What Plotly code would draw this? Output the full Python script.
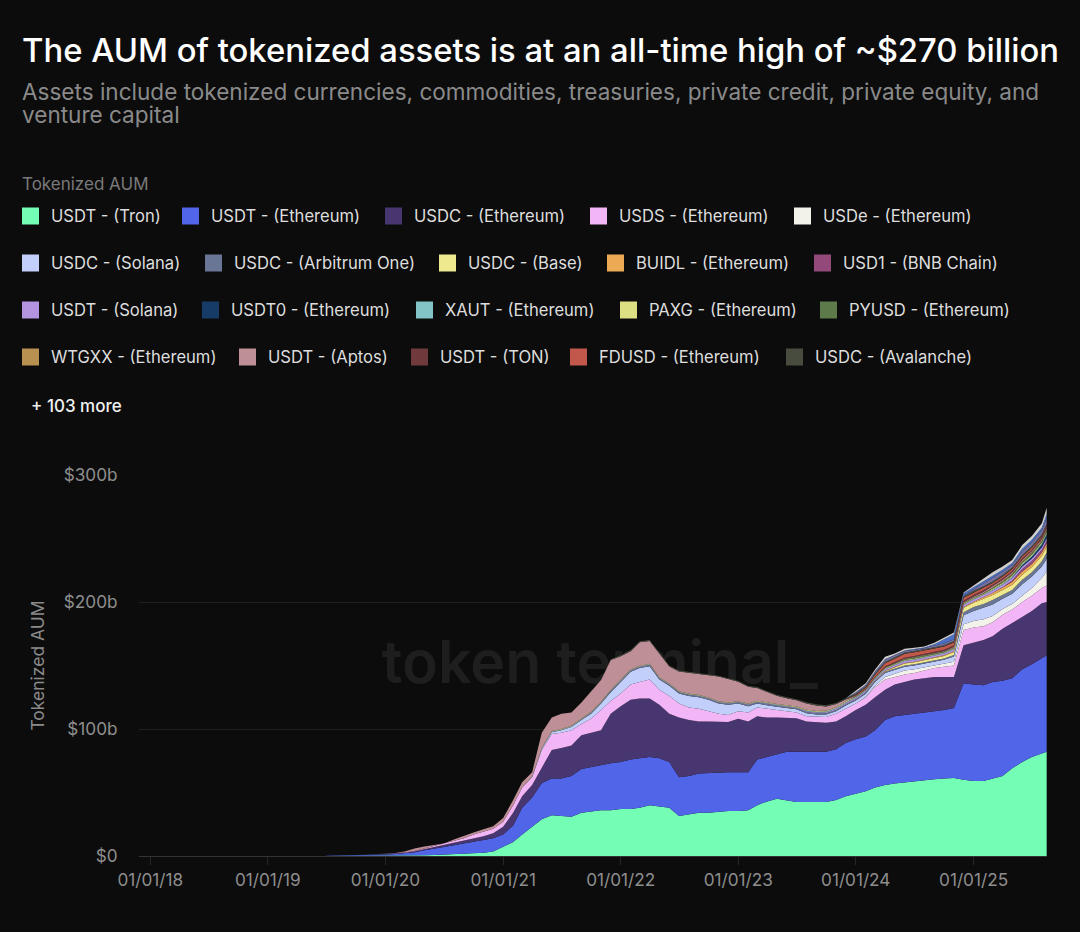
#!/usr/bin/env python3
import pandas as pd
import plotly.graph_objects as go

BG = '#0c0c0c'
FONT = 'Inter'
WIDTH = 1080
HEIGHT = 932
MARGIN = dict(l=139, r=33, t=475, b=76, pad=0)

# month starts from 2019-07 to 2025-08, then the last reading
DATES = [d.strftime('%Y-%m-%d') for d in pd.date_range('2019-07-01', '2025-08-01', freq='MS')] + ['2025-08-16']

USDT_TRON = [
	0, 0, 0, 0, 0, 0,
	0, 0, 0, .2, .5, .7, 1, 1.3, 1.6, 2, 2.5, 3.5,
	7, 11, 17, 23, 29, 32, 31.5, 31, 34, 35, 36, 36,
	37, 37, 38, 40, 39, 38, 31.5, 33, 34, 34, 35, 35.5,
	35.5, 36, 40, 43, 45, 44, 42.5, 42.5, 42.5, 42.5, 44, 47,
	49, 51, 54, 56, 57, 58, 59, 60, 60.5, 61, 61.4, 60,
	59, 59, 61, 63, 69, 74, 78, 81, 82,
]
USDT_ETH = [
	.1, .2, .3, .5, .7, 1,
	1.2, 1.5, 2, 2.8, 4, 4.8, 6, 7.2, 8.4, 9.5, 10, 10.5,
	10, 13, 21, 23, 28.5, 29, 29.5, 32, 34.5, 35, 36, 37,
	37, 39, 39, 38, 38, 36, 30.5, 30, 31, 31.5, 31, 30.5,
	30.5, 30, 36, 35, 35, 38, 39.5, 39.5, 39.5, 39.5, 40, 42,
	43, 43, 45, 51, 53, 53, 52.5, 52.5, 53.5, 54, 55.1, 76,
	76, 75.5, 76, 75, 71, 73, 73, 75, 76,
]
USDC_ETH = [
	0, 0, .05, .1, .2, .3,
	.5, .5, .6, .8, 1, 1.3, 1.5, 2, 2.5, 2.5, 3, 4,
	6, 10, 9, 10, 11.5, 22.5, 24, 24, 26.5, 27, 27, 39,
	44, 47, 47, 46, 42, 38, 47, 44, 41, 40.5, 40, 39.5,
	42, 40, 34, 31, 29, 27, 26.5, 24, 23.5, 23, 22, 21,
	23, 25, 26, 24, 25, 26, 27.5, 27.5, 27, 26, 24.5, 30,
	33, 35.5, 36, 41, 43.5, 41, 42, 43, 42,
]
USDS_ETH = [
	0, 0, 0, 0, 0, 0,
	0, 0, .1, .2, .5, .7, 1, 1.5, 1.5, 3, 3.5, 3.5,
	4, 6, 7, 6, 14.5, 12.5, 12, 12, 9, 11, 16, 10,
	10, 12, 13, 15, 12, 14, 11, 10, 10, 8, 6, 5.5,
	6, 7, 7, 7, 6, 5, 4.5, 4, 4, 4.5, 6, 6,
	5, 6, 8, 8, 6, 6, 5, 6, 7, 8, 9, 12,
	12, 11, 11, 11, 10.5, 12, 12, 12, 13,
]
USDT_APTOS = [
	0, 0, 0, 0, 0, .1,
	.2, .3, .8, 2, 1.5, 1, .3, 1, 2, 1.5, 2, 2,
	3, 4, 4, 3.4, 12, 10.5, 12, 10.5, 12.5, 16, 17, 23.5,
	18.5, 14.5, 18.5, 18, 19, 13.5, 15.5, 16.5, 16.5, 17.5, 19.5, 18.5,
	15.5, 13.5, 10, 8.5, 6.5, 5.5, 5, 5, 4.5, 3.5, 2.5, 1.5,
	.5, .3, .3, .3, .3, .3, .3, .4, .4, .4, .5, .6,
	.8, 1, 1, 1, 1, 1, 1, 1, 1,
]

# the shorter series start late, the values run up to the last date
USDE_ETH = [.3, 1, 2, 2.5, 3, 3, 2.5, 2.5, 2.5, 3, 4.5, 5, 5.5, 5, 4.5, 4.5, 5, 6, 8, 11]
USDC_SOL = [
	.3, 1, 1.5, 2, 2.5, 3, 4, 5, 7,
	9, 10, 11, 10.5, 8, 8, 8, 9, 9, 9, 8, 8,
	6, 5, 3, 2.5, 2.5, 2.5, 2.5, 2.5, 2, 2, 2, 2.5,
	2.5, 2.5, 3, 3, 3, 3, 3, 3, 3, 3, 4, 7,
	8, 9, 9, 8, 8, 9, 9, 9, 10,
]
USDC_ARB = [
	.3, .5, .5, .7,
	.7, .7, .7, .7, .7, .7, .7, .7, .7, .7, .7, .7,
	.7, .7, .8, .8, .8, .8, .8, .9, .9, .9, 1, 1,
	1, 1, 1, 1, 1, 1, 1, 1, 1, 1, 1.2, 2.5,
	3, 3, 3.5, 3, 3, 3.5, 3.5, 4, 5,
]
USDC_BASE = [.3, .5, 1, 1.5, 1.5, 1.5, 1.5, 2, 2.5, 3.5, 3.5, 4, 4, 4, 4, 4, 4, 4.5, 4.5]
BUIDL_ETH = [.1, .3, .3, .5, .5, .5, .5, .5, .5, .5, .6, 1, 1.5, 2, 2.5, 2.5, 2.5, 2.5, 2.5]
USD1_BNB = [.1, 1, 2, 2.2, 2.2, 2.2]
USDT_SOL = [
	.2, .2, .2, .2, .2, .2, .2,
	.3, .3, .3, .3, .3, .3, .3, .3, .3, .3, .3, .3,
	.3, .3, .4, .4, .4, .4, .4, .6, .6, .8, 1, 1,
	1, 1, 1, 1.2, 1.2, 1.5, 1.5, 1.5, 1.5, 1.5, 1.5, 1.8,
	1.8, 1.8, 2, 2, 2, 2, 2, 2, 2,
]
USDT0_ETH = [.2, 1, 1.5, 2, 3]
XAUT_ETH = [
	.1, .2, .4, .4, .4, .4, .4, .4, .4,
	.4, .4, .4, .4, .4, .4, .4, .4, .4, .4, .4, .4,
	.4, .4, .5, .5, .5, .5, .5, .6, .6, .6, .6, .6,
	.5, .5, .5, .5, .5, .5, .5, .5, .5, .5, .5, .5,
	.6, .6, .8, .8, .8, .8, .8, .9, 1,
]
PAXG_ETH = [
	.2, .3, .4, .4, .4, .4, .4, .4, .5,
	.4, .4, .4, .4, .4, .4, .4, .4, .4, .4, .4, .4,
	.4, .4, .5, .5, .5, .5, .5, .5, .5, .5, .5, .7,
	.4, .4, .4, .5, .5, .5, .5, .5, .5, .5, .5, .5,
	.6, .6, .8, .8, .8, .8, .9, 1, 1,
]
PYUSD_ETH = [.3, .3, .3, .4, .5, .7, 1, 1, .7, .6, .5, .5, .5, .5, .6, .8, 1, 1, 1, 1, 1.2]
WTGXX_ETH = [.3, .5, .6, .7, .8, .8, .8]
USDT_TON = [.1, .3, .5, .6, .7, .7, .8, .8, .9, 1, 1, 1.2, 1.2, 1, 1, 1, 1, 1, 1, 1]
FDUSD_ETH = [.5, 1, 1.5, 2.5, 3, 3, 3, 2.5, 2.5, 2.5, 2.5, 2.5, 2, 2, 1.5, 1.5, 1.5, 1.5, 1.5, 1, 1]
USDC_AVAX = [
	.3, .5, .5, .7,
	.7, .7, .7, .7, .5, .7, .7, .7, .7, .7, .7, .7,
	.7, .7, .8, .8, .8, .8, .8, .9, .9, .9, .9, .9,
	1, 1, 1, 1, 1, 1, 1, 1, 1, 1, 1, 1,
	1.2, 1.2, 1.2, 1.2, 1.2, 1.2, 1.2, 1.2, 1.2,
]
# three lumps for the series hidden behind "+ 103 more"
MORE_BLUE = [.3, .3, .5, .5, .5, .5, .5, .5, 1, 3, 4, 2, 1.5, 2, 2, 1.5, 1.5, 2, 2, 2, 3]
MORE_GREY = [1, 1.2, 1.4, 1.8, 1.3, 1.2, 1, .9, 1.3, 1.6, 1.4, .6, 1.4, 2.3, 2.7, 2.7, 2.2, 3, 3, 3.5, 5]
MORE_VIOLET = [1, 1.1, 1.3, 1.8, 1.3, 1.2, 1, .9, 1.3, 1.5, 1.4, .5, 1.3, 2.3, 2.6, 2.6, 2.2, 2.9, 3.1, 3.4, 4.8]

Y_TICKS = [0, 100, 200, 300]
Y_LABELS = ['$0', '$100b', '$200b', '$300b']
X_TICKS = ['2018-01-01', '2019-01-01', '2020-01-01', '2021-01-01', '2022-01-01', '2023-01-01', '2024-01-01', '2025-01-01']
X_LABELS = ['01/01/18', '01/01/19', '01/01/20', '01/01/21', '01/01/22', '01/01/23', '01/01/24', '01/01/25']

# stacking order, bottom to top: name, values, colour
SERIES = [
	('USDT - (Tron)', USDT_TRON, '#74fdb5'),
	('USDT - (Ethereum)', USDT_ETH, '#5065e8'),
	('USDC - (Ethereum)', USDC_ETH, '#47366f'),
	('USDS - (Ethereum)', USDS_ETH, '#f2b5f5'),
	('USDe - (Ethereum)', USDE_ETH, '#f2f1ea'),
	('USDC - (Solana)', USDC_SOL, '#c3cffb'),
	('USDC - (Arbitrum One)', USDC_ARB, '#6a7696'),
	('USDC - (Base)', USDC_BASE, '#eee88f'),
	('BUIDL - (Ethereum)', BUIDL_ETH, '#edaa55'),
	('USD1 - (BNB Chain)', USD1_BNB, '#93497a'),
	('USDT - (Solana)', USDT_SOL, '#b493e0'),
	('USDT0 - (Ethereum)', USDT0_ETH, '#153b66'),
	('XAUT - (Ethereum)', XAUT_ETH, '#83c5c6'),
	('PAXG - (Ethereum)', PAXG_ETH, '#dce083'),
	('PYUSD - (Ethereum)', PYUSD_ETH, '#5d7a4a'),
	('WTGXX - (Ethereum)', WTGXX_ETH, '#b8904f'),
	('USDT - (Aptos)', USDT_APTOS, '#bf8f98'),
	('USDT - (TON)', USDT_TON, '#703a3c'),
	('FDUSD - (Ethereum)', FDUSD_ETH, '#c2574c'),
	('USDC - (Avalanche)', USDC_AVAX, '#484c3f'),
	('More 1', MORE_VIOLET, '#75709c'),
	('More 2', MORE_BLUE, '#4a6fc4'),
	('More 3', MORE_GREY, '#cfcfcf'),
]

# legend rows: swatch left edge, in reading order of SERIES[:20]
LEGEND_ROWS = [
	(216, [22, 182, 385, 590, 794]),
	(263, [22, 205, 439, 607, 814]),
	(310, [22, 202, 416, 620, 820]),
	(357, [22, 239, 411, 570, 786]),
]


def pad(values):
	# left-fill a late starter with zeros
	assert len(values) <= len(DATES), f'too many values: {len(values)}'
	return [0] * (len(DATES) - len(values)) + list(values)


def px(x):
	return (x - MARGIN['l']) / (WIDTH - MARGIN['l'] - MARGIN['r'])


def py(y):
	return (HEIGHT - MARGIN['b'] - y) / (HEIGHT - MARGIN['t'] - MARGIN['b'])


def text(x, y, s, size, color, weight=400, xanchor='left', yanchor='middle'):
	return dict(
		x=px(x), y=py(y), xref='paper', yref='paper',
		text=s, showarrow=False, xanchor=xanchor, yanchor=yanchor,
		align='left', borderpad=0,
		font=dict(family=FONT, size=size, color=color, weight=weight),
	)


fig = go.Figure()

# watermark goes first so the areas cover it
fig.add_trace(go.Scatter(
	x=['2021-10-28'], y=[148], mode='text', text=['token terminal_'],
	textfont=dict(family=FONT, size=59, color='#1e1e1e', weight=600),
	textposition='middle center', hoverinfo='skip', showlegend=False,
))

for name, values, color in SERIES:
	fig.add_trace(go.Scatter(
		x=DATES, y=pad(values), name=name, mode='lines',
		stackgroup='aum', fillcolor=color,
		line=dict(width=0, color=color, shape='linear'),
	))

annotations = [
	text(20.5, 50, 'The AUM of tokenized assets is at an all-time high of ~$270 billion', 32.8, '#ffffff', 500),
	text(21, 91, 'Assets include tokenized currencies, commodities, treasuries, private credit, private equity, and', 22.55, '#8a8a8a'),
	text(21, 115, 'venture capital', 22.55, '#8a8a8a'),
	text(21, 184, 'Tokenized AUM', 17, '#7a7a7a'),
	text(30, 406, '+ 103 more', 17, '#f0f0f0', 500),
]
shapes = []
idx = 0
for rowY, lefts in LEGEND_ROWS:
	for left in lefts:
		name, _, color = SERIES[idx]
		idx += 1
		shapes.append(dict(
			type='rect', xref='paper', yref='paper',
			x0=px(left), x1=px(left + 17), y0=py(rowY - 8.5), y1=py(rowY + 8.5),
			fillcolor=color, line=dict(width=0),
		))
		annotations.append(text(left + 28, rowY, name, 16.6, '#dedede'))

fig.update_layout(
	autosize=False,
	width=WIDTH,
	height=HEIGHT,
	margin=MARGIN,
	paper_bgcolor=BG,
	plot_bgcolor=BG,
	showlegend=False,
	annotations=annotations,
	shapes=shapes,
	font=dict(family=FONT, color='#8e8e8e', size=17.2),
	xaxis=dict(
		type='date',
		range=['2017-11-27', '2025-08-17'],
		tickvals=X_TICKS,
		ticktext=X_LABELS,
		ticks='outside',
		ticklen=8,
		tickcolor='#262626',
		showgrid=False,
		showline=True,
		linecolor='#333333',
		zeroline=False,
	),
	yaxis=dict(
		range=[0, 300],
		tickvals=Y_TICKS,
		ticktext=Y_LABELS,
		ticks='outside',
		ticklen=17,
		tickcolor=BG,
		gridcolor='#202020',
		zeroline=False,
		title=dict(text='Tokenized AUM', standoff=14, font=dict(family=FONT, size=17.5, color='#8a8a8a')),
	),
)

# the page default would leave an 8px white border around the figure
fig.write_html(
	'out.html',
	config=dict(displayModeBar=False),
	post_script="document.body.style.margin='0';document.body.style.background='#0c0c0c';",
)
